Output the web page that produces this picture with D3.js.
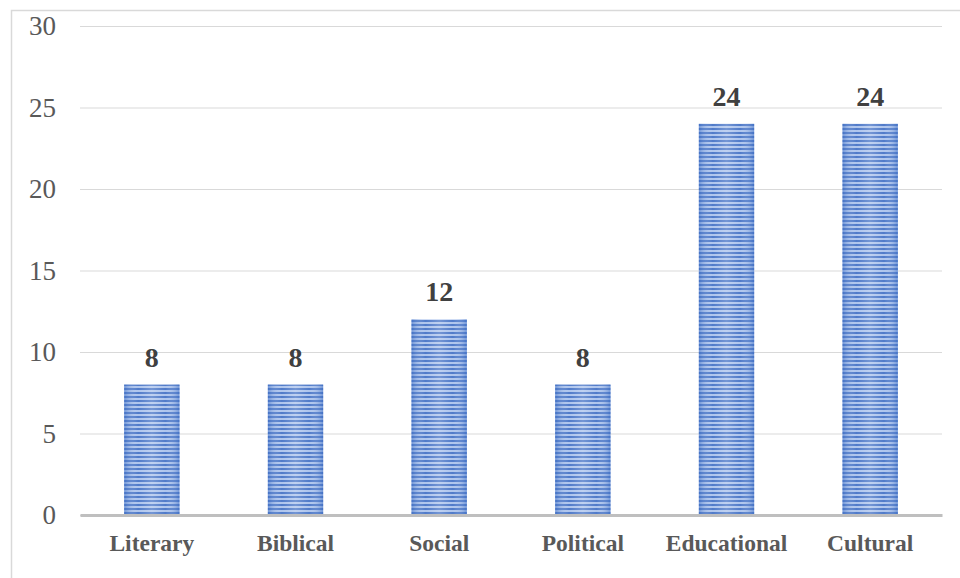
<!DOCTYPE html>
<html>
<head>
<meta charset="utf-8">
<script src="https://cdn.jsdelivr.net/npm/d3@7/dist/d3.min.js"></script>
<style>
  html, body { margin: 0; padding: 0; background: #fff; }
  svg { display: block; }
</style>
</head>
<body>
<svg id="chart" width="960" height="578" font-family="'Liberation Serif'"></svg>
<script>
// Number of items per theme
const categories = ["Literary", "Biblical", "Social", "Political", "Educational", "Cultural"];
const values = [8, 8, 12, 8, 24, 24];
const yTicks = [0, 5, 10, 15, 20, 25, 30];

const svg = d3.select("#chart");
const W = 960, H = 578;
const margin = { left: 80, right: 18, top: 26, bottom: 63 };
const serif = "'Liberation Serif'";

// Chart frame
svg.append("rect")
  .attr("x", 11.5).attr("y", 10.5)
  .attr("width", W + 10).attr("height", H + 10)
  .attr("fill", "#fff").attr("stroke", "#d9d9d9").attr("stroke-width", 1.5);

const x = d3.scaleBand()
  .domain(categories)
  .range([margin.left, W - margin.right])
  .paddingInner(0.615)
  .paddingOuter(0.3075);

const y = d3.scaleLinear()
  .domain([0, 30])
  .range([H - margin.bottom, margin.top]);

// Striped fill with a soft lighter centre
const defs = svg.append("defs");
const pat = defs.append("pattern")
  .attr("id", "stripes")
  .attr("patternUnits", "userSpaceOnUse")
  .attr("width", 8).attr("height", 4);
pat.append("rect").attr("width", 8).attr("height", 4).attr("fill", "#aac2ec");
pat.append("rect").attr("width", 8).attr("height", 2).attr("fill", "#4673c6");

const grad = defs.append("linearGradient")
  .attr("id", "sheen").attr("x1", "0").attr("x2", "1").attr("y1", "0").attr("y2", "0");
grad.append("stop").attr("offset", "0%").attr("stop-color", "#3f6fc4").attr("stop-opacity", 0.55);
grad.append("stop").attr("offset", "25%").attr("stop-color", "#ffffff").attr("stop-opacity", 0.05);
grad.append("stop").attr("offset", "50%").attr("stop-color", "#ffffff").attr("stop-opacity", 0.25);
grad.append("stop").attr("offset", "75%").attr("stop-color", "#ffffff").attr("stop-opacity", 0.05);
grad.append("stop").attr("offset", "100%").attr("stop-color", "#3f6fc4").attr("stop-opacity", 0.55);

// Gridlines and value axis
const yAxis = d3.axisLeft(y).tickValues(yTicks).tickSize(-(W - margin.left - margin.right)).tickPadding(24);
const gy = svg.append("g")
  .attr("transform", `translate(${margin.left},0)`)
  .call(yAxis)
  .attr("font-family", serif);
gy.select(".domain").remove();
gy.selectAll(".tick line").attr("stroke", "#d9d9d9").attr("stroke-width", 1);
gy.selectAll(".tick text")
  .attr("font-family", serif)
  .attr("font-size", 27)
  .attr("fill", "#595959");

// Bars
const bars = svg.append("g");
bars.selectAll("rect.bar")
  .data(values)
  .join("rect")
  .attr("class", "bar")
  .attr("x", (d, i) => x(categories[i]))
  .attr("y", d => y(d))
  .attr("width", x.bandwidth())
  .attr("height", d => y(0) - y(d))
  .attr("fill", "url(#stripes)");
bars.selectAll("rect.sheen")
  .data(values)
  .join("rect")
  .attr("class", "sheen")
  .attr("x", (d, i) => x(categories[i]))
  .attr("y", d => y(d))
  .attr("width", x.bandwidth())
  .attr("height", d => y(0) - y(d))
  .attr("fill", "url(#sheen)");

// Category axis with baseline
const gx = svg.append("g")
  .attr("transform", `translate(0,${y(0)})`)
  .call(d3.axisBottom(x).tickSize(0).tickPadding(19))
  .attr("font-family", serif);
gx.select(".domain").attr("stroke", "#bfbfbf").attr("stroke-width", 3);
gx.selectAll(".tick text")
  .attr("font-family", serif)
  .attr("font-size", 23.5)
  .attr("font-weight", "bold")
  .attr("fill", "#595959");

// Value labels
svg.append("g").selectAll("text")
  .data(values)
  .join("text")
  .attr("x", (d, i) => x(categories[i]) + x.bandwidth() / 2)
  .attr("y", d => y(d) - 18)
  .attr("text-anchor", "middle")
  .attr("font-family", serif)
  .attr("font-size", 28)
  .attr("font-weight", "bold")
  .attr("fill", "#404040")
  .text(d => d);
</script>
</body>
</html>
